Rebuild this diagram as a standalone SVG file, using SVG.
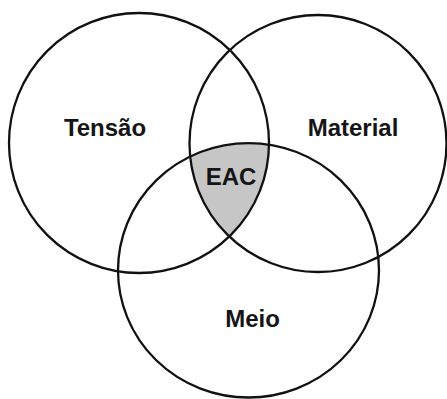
<svg xmlns="http://www.w3.org/2000/svg" width="447" height="399" viewBox="0 0 447 399">
  <style>
    .ring { fill: none; stroke: #111; stroke-width: 2.3; }
    .label { font-family: "Liberation Sans", Arial, sans-serif; font-weight: bold; font-size: 24px; fill: #151515; text-anchor: middle; }
  </style>
  <defs>
    <clipPath id="clipTensao"><circle cx="139" cy="143" r="130"/></clipPath>
    <clipPath id="clipMaterial"><circle cx="318" cy="143.5" r="128.5"/></clipPath>
  </defs>
  <rect width="447" height="399" fill="#ffffff"/>

  <!-- shared region of all three sets -->
  <g id="eac-area" clip-path="url(#clipTensao)">
    <g clip-path="url(#clipMaterial)">
      <ellipse cx="248.5" cy="270.3" rx="130.5" ry="127.2" fill="#c6c6c6"/>
    </g>
  </g>

  <g id="tensao">
    <circle class="ring" cx="139" cy="143" r="130"/>
    <text class="label" x="105" y="135.5">Tensão</text>
  </g>
  <g id="material">
    <circle class="ring" cx="318" cy="143.5" r="128.5"/>
    <text class="label" x="353" y="135.5">Material</text>
  </g>
  <g id="meio">
    <ellipse class="ring" cx="248.5" cy="270.3" rx="130.5" ry="127.2"/>
    <text class="label" x="252.5" y="326.5">Meio</text>
  </g>
  <g id="eac">
    <text class="label" x="231" y="185">EAC</text>
  </g>
</svg>
